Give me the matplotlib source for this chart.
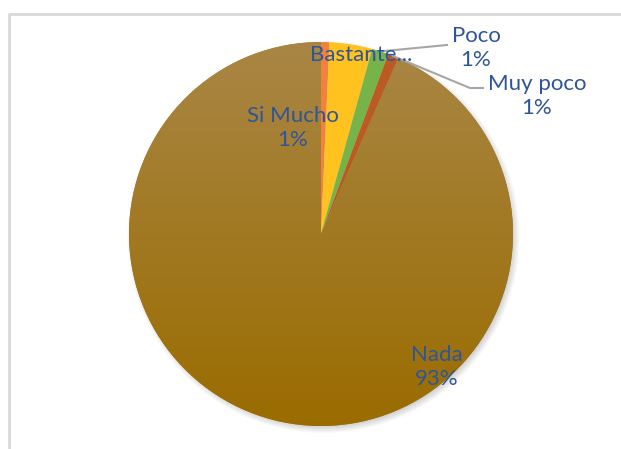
import matplotlib
matplotlib.use("Agg")
import matplotlib.pyplot as plt
import numpy as np
from matplotlib.patches import Circle
from matplotlib.colors import LinearSegmentedColormap

# data (share of answers, %)
categories = ["Si Mucho", "Bastante", "Poco", "Muy poco", "Nada"]
values = [0.7, 3.6, 1.4, 0.9, 93.4]
shown_labels = ["Si Mucho\n1%", "Bastante...", "Poco\n1%", "Muy poco\n1%", "Nada\n93%"]
colors = ["#F0823C", "#FFC21F", "#76B44A", "#BB5A22", "#A07A22"]

W, H = 621, 449
cx, cy, r = 321, H - 234, 192
text_color = "#2F5597"

plt.rcParams["font.family"] = ["Lato", "DejaVu Sans"]

fig = plt.figure(figsize=(W / 100, H / 100), dpi=100)
ax = fig.add_axes([0, 0, 1, 1])

# chart frame (top and left edge visible)
ax.plot([8.5, 8.5, 620], [0, H - 13.5, H - 13.5], color="#D9D9D9", lw=2, zorder=0)

# soft shadow toward lower right
for i in range(8):
    ax.add_patch(Circle((cx + 2.5, cy - 3), r + 4 - i, color="black",
                        alpha=0.025, lw=0, zorder=1))

wedges, _ = ax.pie(values, colors=colors, startangle=90, counterclock=False,
                   radius=r, center=(cx, cy), frame=True,
                   wedgeprops=dict(linewidth=0, zorder=2))
ax.set_xlim(0, W)
ax.set_ylim(0, H)
ax.set_aspect("equal")
ax.axis("off")

# vertical gradient fill on the big slice
grad = LinearSegmentedColormap.from_list("g", ["#9A6C00", "#A98645"])
ys = np.linspace(0, 1, 256).reshape(-1, 1)
im = ax.imshow(ys, cmap=grad, origin="lower", aspect="auto",
               extent=(cx - r, cx + r, cy - r, cy + r), zorder=3)
im.set_clip_path(wedges[-1])

# labels
label_pos = [(293, 128), (361, 55), (476, 48), (537, 96), (437, 367)]
for txt, (x, y) in zip(shown_labels, label_pos):
    ax.text(x, H - y, txt, ha="center", va="center", color=text_color,
            fontsize=16, linespacing=1.25, zorder=5)

# leader lines for Poco and Muy poco
def edge_point(w):
    th = np.deg2rad((w.theta1 + w.theta2) / 2)
    return cx + r * np.cos(th), cy + r * np.sin(th)

px, py = edge_point(wedges[2])
ax.plot([px, 447], [py, H - 45], color="#A6A6A6", lw=1.5, zorder=4)
mx, my = edge_point(wedges[3])
ax.plot([mx, 470, 483], [my, H - 88, H - 88], color="#A6A6A6", lw=1.5, zorder=4)

fig.savefig("out.png", dpi=100)
